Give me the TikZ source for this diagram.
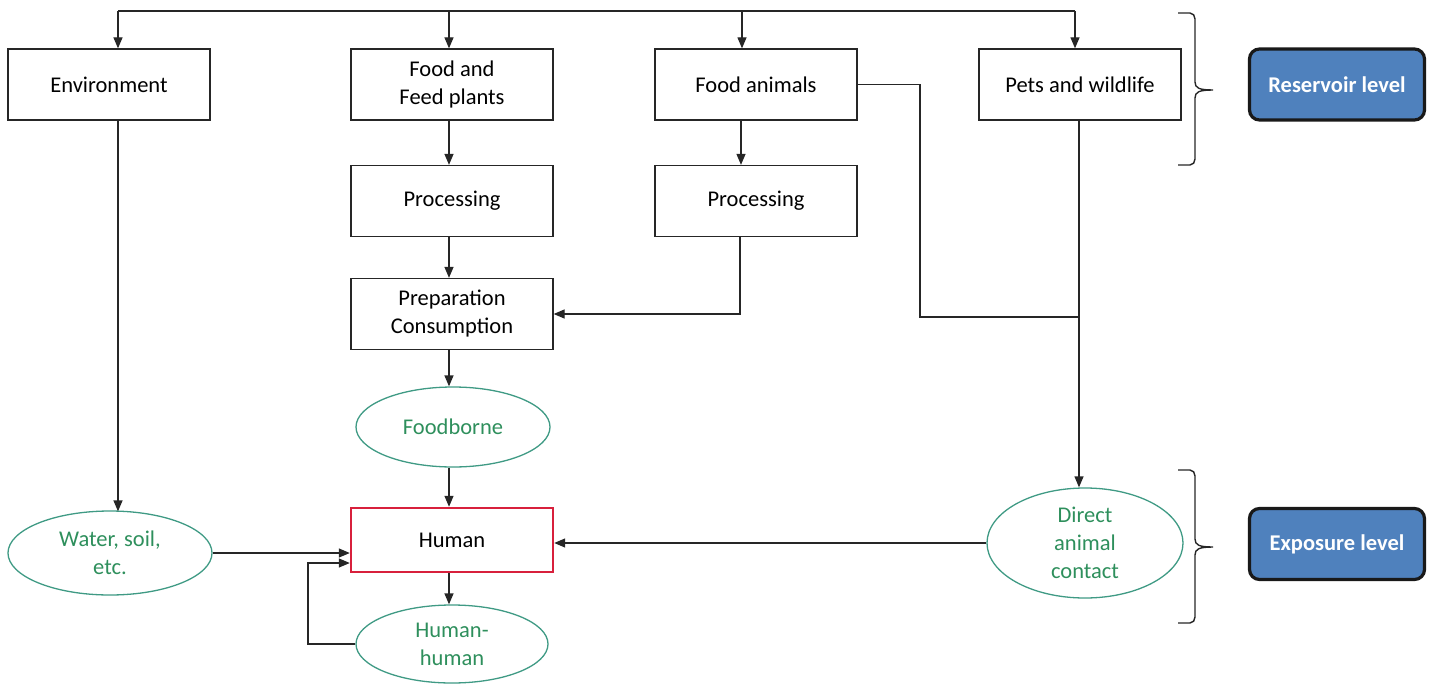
\documentclass[tikz,border=0pt]{standalone}
\usepackage{fontspec}
\setmainfont{Carlito}
\usetikzlibrary{arrows.meta,shapes.geometric}
\definecolor{gtext}{HTML}{2E8F5C}
\definecolor{gline}{HTML}{3F9A84}
\definecolor{hred}{HTML}{D8203C}
\definecolor{lblue}{HTML}{4F81BD}
\begin{document}
\begin{tikzpicture}[x=1pt,y=-1pt,
  every node/.style={font=\fontsize{22.5}{28}\selectfont, align=center},
  box/.style={draw=black!85, line width=1.3pt, rectangle, minimum width=202pt, minimum height=71pt, inner sep=0pt},
  humanbox/.style={draw=hred, line width=2.4pt, rectangle, minimum width=202pt, minimum height=64pt, inner sep=0pt},
  ell/.style={draw=gline, line width=1.3pt, ellipse, inner sep=0pt},
  gtxt/.style={text=gtext, inner sep=0pt},
  level/.style={draw=black!90, line width=3.2pt, fill=lblue, rounded corners=10pt, minimum width=175pt, minimum height=71pt, text=white, font=\fontsize{22.5}{28}\selectfont\bfseries},
  arr/.style={-{Triangle[length=11pt,width=9pt]}, line width=1.3pt, black!85},
  ln/.style={line width=1.3pt, black!85},
  brk/.style={line width=1.4pt, black!85}]
\useasboundingbox (0,0) rectangle (1434,685);

% boxes
\node[box] (env) at (109,84.5) {Environment};
\node[box] (ffp) at (452,84.5) {Food and\\Feed plants};
\node[box] (fa) at (756,84.5) {Food animals};
\node[box] (pw) at (1080,84.5) {Pets and wildlife};
\node[box] (proc1) at (452,201) {Processing};
\node[box] (proc2) at (756,201) {Processing};
\node[box] (prep) at (452,314) {Preparation\\Consumption};
\node[humanbox] (human) at (452,540) {Human};

% ellipses
\node[ell, minimum width=194pt, minimum height=80pt] (fb) at (453,427) {};
\node[gtxt] (fbt) at (fb) {Foodborne};
\node[ell, minimum width=204pt, minimum height=84pt] (water) at (110,553) {};
\node[gtxt] (watert) at (water) {Water, soil,\\etc.};
\node[ell, minimum width=192pt, minimum height=78pt] (hh) at (452,644) {};
\node[gtxt] (hht) at (hh) {Human-\\human};
\node[ell, minimum width=196pt, minimum height=110pt] (direct) at (1085,543) {};
\node[gtxt] (directt) at (direct) {Direct\\animal\\contact};

% level boxes
\node[level] (res) at (1337,84.5) {Reservoir level};
\node[level] (exp) at (1337,544) {Exposure level};

% top distribution line
\coordinate (t1) at (118,11);
\coordinate (t2) at (449,11);
\coordinate (t3) at (742,11);
\coordinate (t4) at (1075,11);
\draw[ln] (t1) -- (t4);
\draw[arr] (t1) -- (t1 |- env.north);
\draw[arr] (t2) -- (t2 |- ffp.north);
\draw[arr] (t3) -- (t3 |- fa.north);
\draw[arr] (t4) -- (t4 |- pw.north);

% vertical chains
\draw[arr] (ffp.south -| t2) -- (proc1.north -| t2);
\coordinate (c2) at (741,0);
\draw[arr] (fa.south -| c2) -- (proc2.north -| c2);
\draw[arr] (proc1.south -| t2) -- (prep.north -| t2);
\coordinate (c3) at (740,314);
\draw[arr] (proc2.south -| c3) -- (c3) -- (prep.east);
\draw[arr] (prep.south -| t2) -- (fb.north -| t2);
\draw[arr] (fb.south -| t2) -- (human.north -| t2);
\draw[arr] (human.south -| t2) -- (hh.north -| t2);

% environment to water
\draw[arr] (env.south -| t1) -- ([yshift=-1pt]water.north -| t1);
\draw[arr] (water.east) -- (water.east -| human.west);

% human-human loop
\coordinate (loop) at (308,563);
\draw[arr] (hh.west) -| (loop) -- (loop -| human.west);

% food animals & pets to direct contact
\coordinate (fa1) at (920,317);
\coordinate (j) at (1079,317);
\draw[ln] (fa.east) -| (fa1) -- (j);
\draw[arr] (pw.south -| j) -- (direct.north -| j);
\draw[arr] (direct.west) -- (direct.west -| human.east);

% braces
\draw[brk] (1178,13) -- (1190,13) to[out=0,in=90] (1195,19) -- (1195,82)
  .. controls (1195,88) and (1199,90) .. (1213,90)
  .. controls (1199,90) and (1195,92) .. (1195,98)
  -- (1195,159) to[out=-90,in=0] (1190,165) -- (1178,165);
\draw[brk] (1178,470) -- (1190,470) to[out=0,in=90] (1195,476) -- (1195,539)
  .. controls (1195,545) and (1199,547) .. (1213,547)
  .. controls (1199,547) and (1195,549) .. (1195,555)
  -- (1195,617) to[out=-90,in=0] (1190,623) -- (1178,623);
\end{tikzpicture}
\end{document}
